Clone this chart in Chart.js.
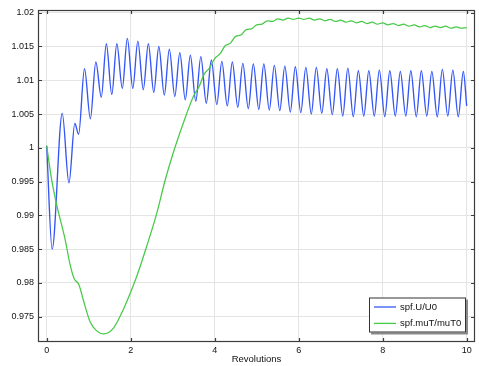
<!DOCTYPE html>
<html>
<head>
<meta charset="utf-8">
<script src="https://cdn.jsdelivr.net/npm/chart.js@4/dist/chart.umd.min.js"></script>
<style>
  html, body { margin: 0; padding: 0; background: #fff; }
  canvas { display: block; }
</style>
</head>
<body>
<canvas id="c" width="479" height="366"></canvas>
<script>
/* ── data ── */

// x-axis / y-axis ticks
const xTicks = [0, 2, 4, 6, 8, 10];
const yTicks = [0.975, 0.98, 0.985, 0.99, 0.995, 1, 1.005, 1.01, 1.015, 1.02];

const seriesLabels = ['spf.U/U0', 'spf.muT/muT0'];

// spf.U/U0 — start transient, then peak / trough pairs
const uRev = [
  0, 0.13, 0.37, 0.53, 0.67, 0.76,
  0.90, 1.04, 1.17, 1.30, 1.42, 1.55, 1.67, 1.80, 1.92, 2.05,
  2.17, 2.30, 2.42, 2.55, 2.67, 2.80, 2.92, 3.05, 3.17, 3.30,
  3.42, 3.55, 3.67, 3.80, 3.92, 4.05, 4.17, 4.30, 4.42, 4.55,
  4.67, 4.80, 4.92, 5.05, 5.17, 5.30, 5.42, 5.55, 5.67, 5.80,
  5.92, 6.05, 6.17, 6.30, 6.42, 6.55, 6.67, 6.80, 6.92, 7.05,
  7.17, 7.30, 7.42, 7.55, 7.67, 7.80, 7.92, 8.05, 8.17, 8.30,
  8.42, 8.55, 8.67, 8.80, 8.92, 9.05, 9.17, 9.30, 9.42, 9.55,
  9.67, 9.80, 9.92, 10.0
];
const uVal = [
  1.0003, 0.9850, 1.0051, 0.9948, 1.0036, 1.0020,
  1.0117, 1.0043, 1.0127, 1.0075, 1.0154, 1.0079, 1.0154, 1.0088, 1.0162, 1.0088,
  1.0158, 1.0086, 1.0154, 1.0082, 1.0150, 1.0078, 1.0146, 1.0076, 1.0141, 1.0071,
  1.0137, 1.0069, 1.0135, 1.0066, 1.0130, 1.0064, 1.0128, 1.0062, 1.0127, 1.0060,
  1.0125, 1.0058, 1.0124, 1.0057, 1.0124, 1.0056, 1.0122, 1.0055, 1.0121, 1.0053,
  1.0120, 1.0052, 1.0119, 1.0050, 1.0119, 1.0051, 1.0117, 1.0049, 1.0117, 1.0047,
  1.0118, 1.0046, 1.0114, 1.0047, 1.0114, 1.0047, 1.0115, 1.0046, 1.0114, 1.0047,
  1.0113, 1.0047, 1.0114, 1.0046, 1.0114, 1.0047, 1.0113, 1.0046, 1.0116, 1.0047,
  1.0115, 1.0046, 1.0113, 1.0062
];

// spf.muT/muT0
const muRev = [
  0, 0.12, 0.24, 0.44, 0.55, 0.65, 0.77, 0.87, 1.03, 1.19,
  1.36, 1.59, 1.82, 2.14, 2.38, 2.62, 2.82, 3.01, 3.25, 3.50,
  3.625, 3.75, 3.875, 4.0, 4.125, 4.25, 4.375, 4.5, 4.625, 4.75,
  4.875, 5.0, 5.125, 5.25, 5.375, 5.5, 5.625, 5.75, 5.875, 6.0,
  6.125, 6.25, 6.375, 6.5, 6.625, 6.75, 6.875, 7.0, 7.125, 7.25,
  7.375, 7.5, 7.625, 7.75, 7.875, 8.0, 8.125, 8.25, 8.375, 8.5,
  8.625, 8.75, 8.875, 9.0, 9.125, 9.25, 9.375, 9.5, 9.625, 9.75,
  9.875, 10.0
];
const muVal = [
  1.0003, 0.9952, 0.9915, 0.9864, 0.9829, 0.9807, 0.9797, 0.9775, 0.9743, 0.9729,
  0.97245, 0.9733, 0.9760, 0.9809, 0.9854, 0.9903, 0.9952, 0.9992, 1.0036, 1.0077,
  1.0090, 1.0109, 1.0118, 1.0132, 1.0139, 1.0151, 1.0155, 1.0165, 1.0167, 1.0175,
  1.0176, 1.0182, 1.0183, 1.0188, 1.0187, 1.0191, 1.0189, 1.0192, 1.0190, 1.0192,
  1.0190, 1.0192, 1.0189, 1.0191, 1.0188, 1.0190, 1.0187, 1.0189, 1.0186, 1.0188,
  1.0185, 1.0187, 1.0184, 1.0186, 1.0183, 1.0185, 1.0182, 1.0184, 1.0181, 1.0183,
  1.0180, 1.0182, 1.0179, 1.0181, 1.0178, 1.0180, 1.0178, 1.0180, 1.0177, 1.0179,
  1.0177, 1.0178
];

/* ── styling ── */
const FONT = "'Liberation Sans', Arial, sans-serif";
const BLUE = '#3556f6';
const GREEN = '#46c946';
const FRAME = '#3c3c3c';

const toPts = (xs, ys) => xs.map((x, i) => ({ x, y: ys[i] }));

// frame, inward tick marks and the boxed legend
const framePlugin = {
  id: 'frame',
  afterDraw(chart) {
    const { ctx: cx, chartArea: { left, right, top, bottom }, scales: { x, y } } = chart;
    cx.save();
    cx.strokeStyle = FRAME; cx.lineWidth = 1.2;
    cx.strokeRect(left + 0.5, top + 0.5, right - left - 1, bottom - top - 1);
    cx.lineWidth = 1.2;
    cx.beginPath();
    xTicks.forEach(v => {
      const px = Math.round(x.getPixelForValue(v)) + 0.5;
      cx.moveTo(px, bottom); cx.lineTo(px, bottom - 4);
      cx.moveTo(px, top); cx.lineTo(px, top + 4);
    });
    yTicks.forEach(v => {
      const py = Math.round(y.getPixelForValue(v)) + 0.5;
      cx.moveTo(left, py); cx.lineTo(left + 4, py);
      cx.moveTo(right, py); cx.lineTo(right - 4, py);
    });
    cx.stroke();

    // legend box
    const bw = 97, bh = 35;
    const bx = right - 9 - bw, by = bottom - 9.5 - bh;
    cx.fillStyle = '#8a8a8a';
    cx.fillRect(bx + 2, by + 2, bw, bh);
    cx.fillStyle = '#fff';
    cx.fillRect(bx, by, bw, bh);
    cx.strokeStyle = '#333'; cx.lineWidth = 1;
    cx.strokeRect(bx + 0.5, by + 0.5, bw - 1, bh - 1);
    const colors = [BLUE, GREEN];
    cx.font = '9.5px ' + FONT;
    cx.textBaseline = 'middle';
    seriesLabels.forEach((lab, i) => {
      const ly = by + 9.5 + i * 16.4;
      cx.strokeStyle = colors[i]; cx.lineWidth = 1.3;
      cx.beginPath(); cx.moveTo(bx + 5, ly); cx.lineTo(bx + 27, ly); cx.stroke();
      cx.fillStyle = '#111';
      cx.fillText(lab, bx + 31, ly);
    });
    cx.restore();
  }
};

new Chart(document.getElementById('c').getContext('2d'), {
  type: 'line',
  data: {
    datasets: [
      {
        label: seriesLabels[0], data: toPts(uRev, uVal),
        borderColor: BLUE, borderWidth: 1.35, pointRadius: 0,
        cubicInterpolationMode: 'monotone', fill: false, order: 1
      },
      {
        label: seriesLabels[1], data: toPts(muRev, muVal),
        borderColor: GREEN, borderWidth: 1.25, pointRadius: 0,
        cubicInterpolationMode: 'monotone', fill: false, order: 0
      }
    ]
  },
  options: {
    responsive: false, animation: false,
    layout: { padding: { left: 0, right: 4, top: 10, bottom: 0 } },
    plugins: { legend: { display: false }, tooltip: { enabled: false } },
    scales: {
      x: {
        type: 'linear', min: -0.207, max: 10.198,
        afterBuildTicks: s => { s.ticks = xTicks.map(v => ({ value: v })); },
        afterFit: s => { s.height = 24; },
        grid: { color: '#e4e4e4', drawTicks: false },
        border: { display: false },
        ticks: { padding: 3, color: '#111', maxRotation: 0, autoSkip: false,
                 font: { size: 9, family: FONT }, callback: v => String(v) },
        title: { display: true, text: 'Revolutions', color: '#111',
                 font: { size: 9.5, family: FONT }, padding: { top: 0, bottom: 1 } }
      },
      y: {
        type: 'linear', min: 0.97125, max: 1.0204,
        afterBuildTicks: s => { s.ticks = yTicks.map(v => ({ value: v })); },
        afterFit: s => { s.width = 38; },
        grid: { color: '#e4e4e4', drawTicks: false },
        border: { display: false },
        ticks: { padding: 4, color: '#111', autoSkip: false,
                 font: { size: 9, family: FONT }, callback: v => String(+v.toFixed(3)) }
      }
    }
  },
  plugins: [framePlugin]
});
</script>
</body>
</html>
